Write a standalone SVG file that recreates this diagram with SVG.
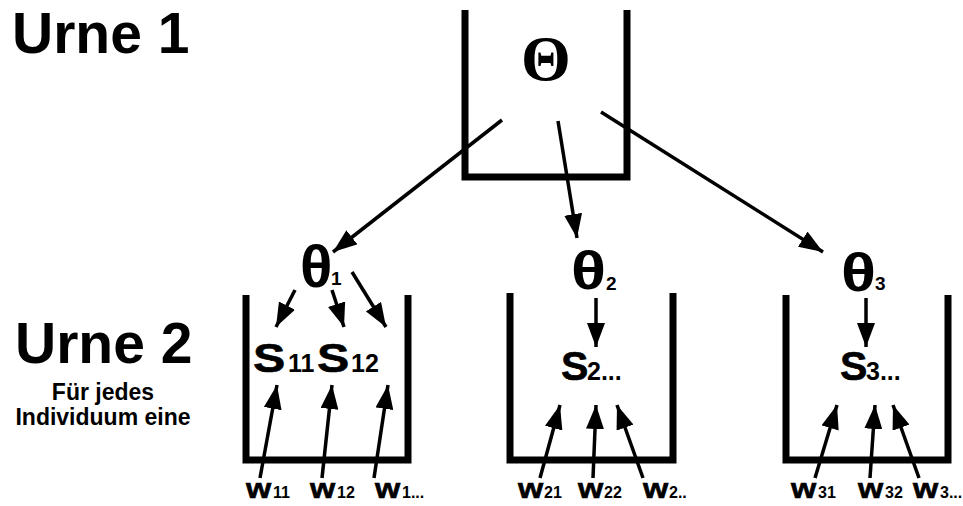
<svg xmlns="http://www.w3.org/2000/svg" width="963" height="506" viewBox="0 0 963 506">
<defs>
<marker id="ah" markerUnits="userSpaceOnUse" markerWidth="24" markerHeight="18" viewBox="0 0 24 18" refX="24" refY="9" orient="auto">
<path d="M0,0 L24,9 L0,18 Z" fill="#000"/>
</marker>
<style>
.urn{fill:none;stroke:#000;stroke-width:7;stroke-linecap:butt;stroke-linejoin:miter}
.arr{fill:none;stroke:#000;stroke-width:3.5;marker-end:url(#ah)}
.t{font-family:"Liberation Sans",Arial,sans-serif;font-weight:bold;fill:#000}
.big{font-size:57px}
.small{font-size:23px;text-anchor:middle}
.th{font-size:54px}
.thsub{font-size:19px}
.S{font-size:41px;stroke:#000;stroke-width:0.6}
.Ssub{font-size:25px}
.w{font-size:27px;stroke:#000;stroke-width:0.6}
.wsub{font-size:16px}
</style>
</defs>
<g id="labels">
<text class="t big" x="12" y="53">Urne 1</text>
<text class="t big" x="15" y="363">Urne 2</text>
<text class="t small" x="103" y="400">Für jedes</text>
<text class="t small" x="103" y="425">Individuum eine</text>
</g>
<g id="urn1">
<path class="urn" d="M465,10 V177 H627 V10"/>
<text x="546" y="80" font-family="'Liberation Serif','Times New Roman',serif" font-weight="bold" font-size="64" text-anchor="middle">Θ</text>
</g>
<g id="urn2a">
<path class="urn" d="M246,295 V460 H408 V295"/>
<text class="t" font-size="60" x="300" y="287">θ</text><text class="t thsub" x="331" y="285">1</text>
<text class="t S" transform="translate(253,372) scale(1.18,1)">S</text><text class="t Ssub" x="288" y="372">11</text>
<text class="t S" transform="translate(317,372) scale(1.18,1)">S</text><text class="t Ssub" x="351" y="372">12</text>
<text class="t w" transform="translate(246,498) scale(1.2,1)">w</text><text class="t wsub" x="273" y="498">11</text>
<text class="t w" transform="translate(310,498) scale(1.2,1)">w</text><text class="t wsub" x="337" y="498">12</text>
<text class="t w" transform="translate(375,498) scale(1.2,1)">w</text><text class="t wsub" x="402" y="498">1...</text>
</g>
<g id="urn2b">
<path class="urn" d="M510,293 V460 H673 V293"/>
<text class="t th" transform="translate(571,289) scale(1.2,1)">θ</text><text class="t thsub" x="606" y="290">2</text>
<text class="t S" x="561" y="380">S</text><text class="t Ssub" x="587" y="380">2...</text>
<text class="t w" transform="translate(518,498) scale(1.2,1)">w</text><text class="t wsub" x="544" y="498">21</text>
<text class="t w" transform="translate(578,498) scale(1.2,1)">w</text><text class="t wsub" x="604" y="498">22</text>
<text class="t w" transform="translate(643,498) scale(1.2,1)">w</text><text class="t wsub" x="669" y="498">2..</text>
</g>
<g id="urn2c">
<path class="urn" d="M786,295 V460 H948 V295"/>
<text class="t th" transform="translate(841,291) scale(1.2,1)">θ</text><text class="t thsub" x="875" y="290">3</text>
<text class="t S" x="840" y="380">S</text><text class="t Ssub" x="866" y="380">3...</text>
<text class="t w" transform="translate(791,498) scale(1.2,1)">w</text><text class="t wsub" x="818" y="498">31</text>
<text class="t w" transform="translate(858,498) scale(1.2,1)">w</text><text class="t wsub" x="885" y="498">32</text>
<text class="t w" transform="translate(913,498) scale(1.2,1)">w</text><text class="t wsub" x="940" y="498">3...</text>
</g>
<g id="connectors">
<line class="arr" x1="502" y1="120" x2="333" y2="252"/>
<line class="arr" x1="558" y1="121" x2="577" y2="238"/>
<line class="arr" x1="601" y1="112" x2="823" y2="252"/>
<line class="arr" x1="295" y1="290" x2="276" y2="327"/>
<line class="arr" x1="332" y1="290" x2="344" y2="327"/>
<line class="arr" x1="352" y1="272" x2="386" y2="327"/>
<line class="arr" x1="260" y1="478" x2="277" y2="385"/>
<line class="arr" x1="322" y1="478" x2="332" y2="385"/>
<line class="arr" x1="374" y1="478" x2="388" y2="385"/>
<line class="arr" x1="596" y1="298" x2="596" y2="347"/>
<line class="arr" x1="540" y1="478" x2="560" y2="405"/>
<line class="arr" x1="593" y1="478" x2="596" y2="405"/>
<line class="arr" x1="643" y1="478" x2="617" y2="405"/>
<line class="arr" x1="866" y1="298" x2="866" y2="347"/>
<line class="arr" x1="815" y1="478" x2="837" y2="405"/>
<line class="arr" x1="870" y1="478" x2="875" y2="405"/>
<line class="arr" x1="919" y1="478" x2="893" y2="405"/>
</g>
</svg>
